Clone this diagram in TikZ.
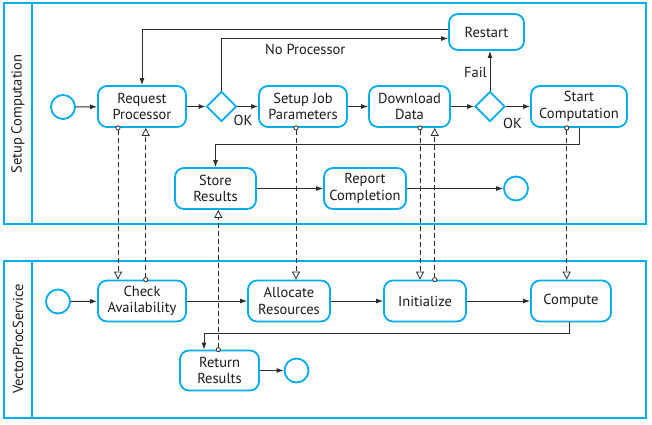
\documentclass[tikz,border=0pt]{standalone}
\usepackage{fontspec}
\setmainfont{PT Sans}
\usetikzlibrary{arrows.meta,shapes.geometric}
\definecolor{bpblue}{RGB}{0,172,236}
\definecolor{ln}{RGB}{45,45,45}
\definecolor{txt}{RGB}{30,26,27}
\begin{document}
\begin{tikzpicture}[x=1pt,y=-1pt,
  font=\fontsize{14.5}{16.5}\selectfont, text=txt,
  task/.style={draw=bpblue, line width=1.8pt, rounded corners=9pt, align=center,
    minimum height=41pt, inner sep=0pt, fill=white},
  gate/.style={draw=bpblue, line width=1.8pt, diamond, minimum size=30pt, inner sep=0pt, fill=white},
  ev/.style={draw=bpblue, line width=1.8pt, circle, minimum size=24pt, inner sep=0pt, fill=white},
  lane/.style={draw=bpblue, line width=1.5pt},
  flow/.style={draw=ln, line width=0.9pt, -{Latex[length=7pt,width=5pt]}},
  msg/.style={draw=ln, line width=0.8pt, dash pattern=on 5pt off 3pt,
    {Circle[open,length=5pt,width=5pt,fill=white]}-{Triangle[open,length=8pt,width=8pt,fill=white]},
    shorten <=-2.5pt},
  lbl/.style={inner sep=0pt}
]
\useasboundingbox (0,0) rectangle (652,424);
% lanes
\draw[lane] (4,3) rectangle (646,224);
\draw[lane] (32,3) -- (32,224);
\draw[lane] (4,261) rectangle (646,418);
\draw[lane] (32,261) -- (32,418);
\node[rotate=90] (lane1) at (18,114) {Setup Computation};
\node[rotate=90] (lane2) at (18,339) {VectorProcService};

% lane 1 nodes
\node[ev] (s1) at (63,107) {};
\node[task, minimum width=88pt] (req) at (142,106.5) {Request\\Processor};
\node[gate] (g1) at (221.5,106.5) {};
\node[task, minimum width=88pt] (job) at (303,106.5) {Setup Job\\Parameters};
\node[task, minimum width=81pt] (dl) at (409.5,106.5) {Download\\Data};
\node[gate] (g2) at (490,106.5) {};
\node[task, minimum width=96pt] (sc) at (579,106.5) {Start\\Computation};
\node[task, minimum width=75pt, minimum height=36pt] (rs) at (486.5,32) {Restart};
\node[task, minimum width=81pt] (st) at (215.5,188.5) {Store\\Results};
\node[task, minimum width=82pt] (rc) at (365,188.5) {Report\\Completion};
\node[ev] (e1) at (516,188.5) {};

% lane 2 nodes
\node[ev] (s2) at (58,301.5) {};
\node[task, minimum width=88pt] (ca) at (142,301) {Check\\Availability};
\node[task, minimum width=82pt] (ar) at (289,301) {Allocate\\Resources};
\node[task, minimum width=82pt] (in) at (425,301) {Initialize};
\node[task, minimum width=80pt] (cp) at (571,301) {Compute};
\node[task, minimum width=79pt, minimum height=40pt] (rr) at (219.5,370.5) {Return\\Results};
\node[ev] (e2) at (296.5,370.5) {};

% lane 1 flows
\draw[flow] (s1) -- (req);
\draw[flow] (req) -- (g1);
\draw[flow] (g1) -- (job);
\draw[flow] (job) -- (dl);
\draw[flow] (dl) -- (g2);
\draw[flow] (g2) -- (sc);
\draw[flow] (g2.north) -- (g2.north |- rs.south);
\draw[flow] (g1.north) |- ([yshift=-6.5pt]rs.west);
\draw[flow] ([yshift=2.7pt]rs.west) -| (req.north);
\draw[flow] (sc.south) -- (sc.south |- 0,144) -| (st.north);
\draw[flow] (st) -- (rc);
\draw[flow] (rc) -- (e1);
\node[lbl, anchor=west] (lnp) at (265,49) {No Processor};
\node[lbl] (lok1) at (243,120) {OK};
\node[lbl] (lok2) at (512.5,123) {OK};
\node[lbl] (lfail) at (475.5,72) {Fail};

% lane 2 flows
\draw[flow] (s2) -- (ca);
\draw[flow] (ca) -- (ar);
\draw[flow] (ar) -- (in);
\draw[flow] (in) -- (cp);
\draw[flow] ([xshift=-2pt]cp.south) -- ([xshift=-2pt]cp.south |- 0,333) -| ([xshift=-15.5pt]rr.north);
\draw[flow] (rr) -- (e2);

% message flows
\draw[msg] ([xshift=-24pt]req.south) -- ([xshift=-24pt]req.south |- ca.north);
\draw[msg] ([xshift=3.7pt]ca.north) -- ([xshift=3.7pt]ca.north |- req.south);
\draw[msg] ([xshift=-7pt]job.south) -- ([xshift=-7pt]job.south |- ar.north);
\draw[msg] ([xshift=10.5pt]dl.south) -- ([xshift=10.5pt]dl.south |- in.north);
\draw[msg] ([xshift=9.7pt]in.north) -- ([xshift=9.7pt]in.north |- dl.south);
\draw[msg] ([xshift=-12.3pt]sc.south) -- ([xshift=-12.3pt]sc.south |- cp.north);
\draw[msg] ([xshift=-1.2pt]rr.north) -- ([xshift=-1.2pt]rr.north |- st.south);
\end{tikzpicture}
\end{document}
